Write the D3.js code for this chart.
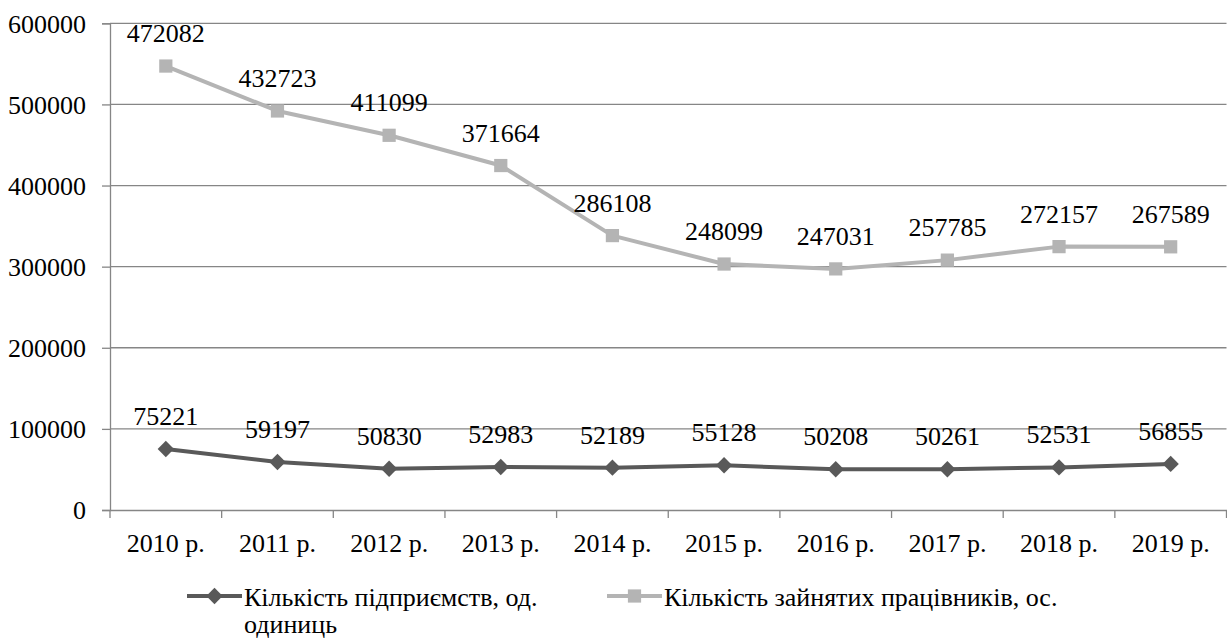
<!DOCTYPE html>
<html>
<head>
<meta charset="utf-8">
<script src="https://cdn.jsdelivr.net/npm/d3@7"></script>
<style>
  body { margin: 0; background: #fff; }
</style>
</head>
<body>
<div id="chart"></div>
<script>
// categories and series
const years = ["2010 р.", "2011 р.", "2012 р.", "2013 р.", "2014 р.", "2015 р.", "2016 р.", "2017 р.", "2018 р.", "2019 р."];
const enterprises = [75221, 59197, 50830, 52983, 52189, 55128, 50208, 50261, 52531, 56855];
const workers = [472082, 432723, 411099, 371664, 286108, 248099, 247031, 257785, 272157, 267589];
const yTicks = [0, 100000, 200000, 300000, 400000, 500000, 600000];
const seriesNames = ["Кількість підприємств, од. одиниць", "Кількість зайнятих працівників, ос."];

const W = 1227, H = 641;
const mLeft = 110, mRight = 1226.5, mTop = 23.3, mBottom = 510;
const fs = 26;
const FONT = '"Liberation Serif"';

const svg = d3.select("#chart").append("svg").attr("width", W).attr("height", H);

// stacked line chart (Excel style)
const rows = years.map((y, i) => ({ year: y, ent: enterprises[i], wrk: workers[i] }));
const stack = d3.stack().keys(["ent", "wrk"]);
const layers = stack(rows);

const x = d3.scaleBand().domain(years).range([mLeft, mRight]);
const y = d3.scaleLinear().domain([0, 600000]).range([mBottom, mTop]);

function serif(sel) {
  return sel.attr("font-family", "Liberation Serif").style("font-family", FONT)
    .style("font-size", fs + "px").attr("fill", "#000");
}

// gridlines + y axis
const yAxis = svg.append("g").attr("transform", `translate(${mLeft},0)`)
  .call(d3.axisLeft(y).tickValues(yTicks).tickSize(8).tickPadding(16).tickFormat(d3.format("d")));
yAxis.attr("font-family", null).attr("font-size", null);
yAxis.select(".domain").attr("stroke", "#868686").attr("stroke-width", 1.3);
yAxis.selectAll(".tick line").attr("stroke", "#868686").attr("stroke-width", 1.3);
yAxis.selectAll(".tick text").call(serif).attr("dy", "0.34em");

svg.append("g").selectAll("line").data(yTicks.filter(d => d > 0)).join("line")
  .attr("x1", mLeft).attr("x2", mRight)
  .attr("y1", d => y(d)).attr("y2", d => y(d))
  .attr("stroke", "#868686").attr("stroke-width", 1.3);

// x axis
const xAxis = svg.append("g").attr("transform", `translate(0,${mBottom})`)
  .call(d3.axisBottom(x).tickSize(0).tickPadding(33));
xAxis.attr("font-family", null).attr("font-size", null);
xAxis.select(".domain").attr("stroke", "#868686").attr("stroke-width", 1.3);
xAxis.selectAll(".tick text").call(serif).attr("dy", "0.35em");
svg.append("g").selectAll("line").data(d3.range(years.length + 1)).join("line")
  .attr("x1", i => mLeft + i * x.step()).attr("x2", i => mLeft + i * x.step())
  .attr("y1", mBottom).attr("y2", mBottom + 8)
  .attr("stroke", "#868686").attr("stroke-width", 1.3);

const colors = ["#595959", "#b4b4b4"];
const cx = d => x(d.data.year) + x.bandwidth() / 2;
const line = d3.line().x(cx).y(d => y(d[1]));

const diamond = d3.symbol().type(d3.symbolDiamond2).size(170);
const square = d3.symbol().type(d3.symbolSquare).size(175);

layers.forEach((layer, k) => {
  svg.append("path").datum(layer)
    .attr("fill", "none").attr("stroke", colors[k]).attr("stroke-width", 4)
    .attr("stroke-linejoin", "round").attr("d", line);
  svg.append("g").selectAll("path").data(layer).join("path")
    .attr("transform", d => `translate(${cx(d)},${y(d[1])})`)
    .attr("d", k === 0 ? diamond : square)
    .attr("fill", colors[k]);
  svg.append("g").selectAll("text").data(layer).join("text")
    .attr("x", cx).attr("y", d => y(d[1]) - 24)
    .attr("text-anchor", "middle")
    .call(serif)
    .text(d => d.data[layer.key]);
});

// legend
const legend = svg.append("g");
const lg = [{ x: 187, lines: ["Кількість підприємств, од.", "одиниць"] },
            { x: 607, lines: ["Кількість зайнятих працівників, ос."] }];
lg.forEach((item, k) => {
  const ly = 596;
  legend.append("line").attr("x1", item.x).attr("x2", item.x + 55)
    .attr("y1", ly).attr("y2", ly).attr("stroke", colors[k]).attr("stroke-width", 4);
  legend.append("path").attr("transform", `translate(${item.x + 27.5},${ly})`)
    .attr("d", k === 0 ? diamond : square).attr("fill", colors[k]);
  const t = legend.append("text").attr("x", item.x + 57).attr("y", 606).call(serif);
  item.lines.forEach((s, j) => {
    t.append("tspan").attr("x", item.x + 57).attr("dy", j === 0 ? 0 : 27).text(s);
  });
});
</script>
</body>
</html>
